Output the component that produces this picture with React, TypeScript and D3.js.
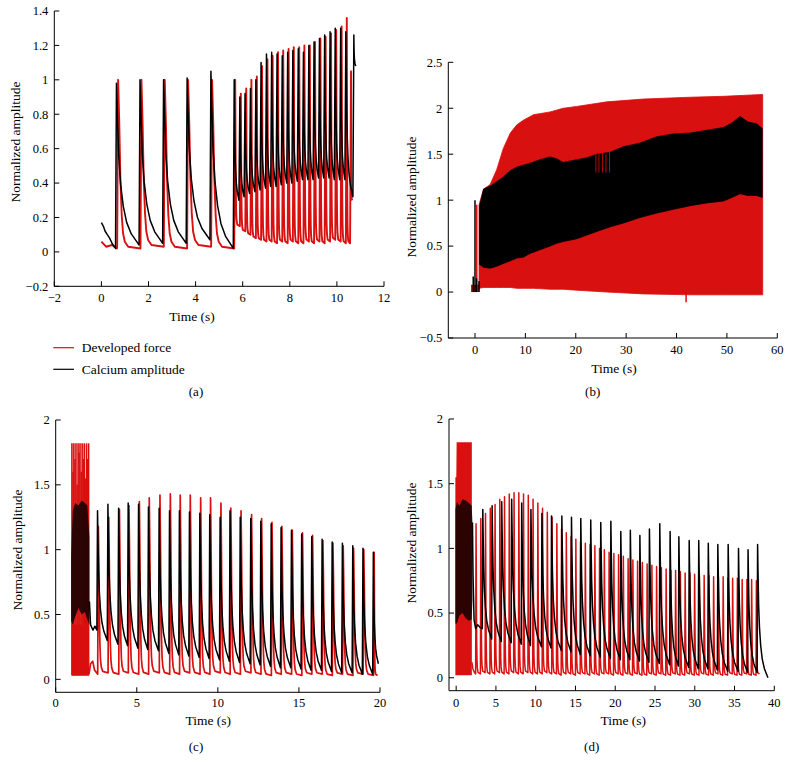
import React from "react";
import * as d3 from "d3";

type P = [number, number];

// ---------- shared beat shape templates (fraction of beat amplitude vs phase of interval) ----------
const FORCE_SHAPE_PHASE = [0, 0.05, 0.1, 0.16, 0.22, 0.3, 0.45, 1];
const FORCE_SHAPE_FRAC = [1, 0.75, 0.42, 0.2, 0.09, 0.04, 0.01, 0];
const CA_SHAPE_PHASE = [0, 0.04, 0.1, 0.18, 0.3, 0.45, 0.65, 0.85, 1];
const CA_SHAPE_FRAC = [1, 0.8, 0.55, 0.38, 0.24, 0.14, 0.07, 0.03, 0];

// ---------- panel (a) ----------
const A_X_TICKS = [-2, 0, 2, 4, 6, 8, 10, 12];
const A_Y_TICKS = [-0.2, 0, 0.2, 0.4, 0.6, 0.8, 1, 1.2, 1.4];
const A_RED_LEAD: P[] = [[0, 0.06], [0.2, 0.03], [0.45, 0.04], [0.66, 0.02]];
const A_RED_T = [0.71, 1.7, 2.69, 3.68, 4.7, 5.68, 5.92, 6.15, 6.37, 6.6, 6.82, 7.05, 7.27, 7.5, 7.72, 7.95, 8.17, 8.4, 8.62, 8.85, 9.07, 9.3, 9.52, 9.75, 9.97, 10.2, 10.42, 10.6];
const A_RED_PEAK = [1.0, 1.0, 1.0, 1.0, 1.0, 1.0, 0.92, 0.95, 1.0, 1.02, 1.08, 1.12, 1.14, 1.16, 1.17, 1.18, 1.19, 1.19, 1.2, 1.2, 1.22, 1.24, 1.25, 1.27, 1.29, 1.31, 1.36, 1.05];
const A_RED_TROUGH = [0.03, 0.02, 0.03, 0.02, 0.03, 0.02, 0.15, 0.12, 0.1, 0.08, 0.07, 0.06, 0.06, 0.05, 0.06, 0.05, 0.06, 0.05, 0.05, 0.06, 0.05, 0.06, 0.05, 0.06, 0.07, 0.06, 0.05, 0.05, 0.3];
const A_RED_END = 10.66;
const A_CA_LEAD: P[] = [[0, 0.17], [0.08, 0.15], [0.16, 0.12], [0.25, 0.1], [0.35, 0.08], [0.45, 0.05], [0.55, 0.03]];
const A_CA_T = [0.64, 1.64, 2.64, 3.64, 4.65, 5.64, 5.88, 6.1, 6.33, 6.56, 6.78, 7.01, 7.23, 7.46, 7.68, 7.91, 8.13, 8.36, 8.58, 8.81, 9.03, 9.26, 9.48, 9.71, 9.93, 10.16, 10.38, 10.72];
const A_CA_PEAK = [0.98, 1.0, 1.0, 1.01, 1.05, 1.0, 0.9, 0.92, 0.95, 1.0, 1.1, 1.15, 1.16, 1.15, 1.14, 1.16, 1.17, 1.18, 1.16, 1.2, 1.22, 1.24, 1.26, 1.28, 1.3, 1.3, 1.28, 1.26];
const A_CA_TROUGH = [0.02, 0.04, 0.05, 0.05, 0.07, 0.02, 0.3, 0.32, 0.34, 0.35, 0.36, 0.37, 0.38, 0.38, 0.39, 0.4, 0.4, 0.41, 0.42, 0.42, 0.42, 0.43, 0.43, 0.43, 0.42, 0.42, 0.42, 0.32, 1.08];
const A_CA_END = 10.8;

// ---------- panel (b) ----------
const B_X_TICKS = [0, 10, 20, 30, 40, 50, 60];
const B_Y_TICKS = [-0.5, 0, 0.5, 1, 1.5, 2, 2.5];
const B_RED_PRE_T = [-0.8, 0.8];
const B_RED_PRE_LO = [0.0, 0.0];
const B_RED_PRE_HI = [0.08, 0.08];
const B_RED_T = [0.8, 1.7, 3.0, 4.3, 5.6, 7.0, 8.3, 9.6, 11.6, 14.9, 17.5, 20.2, 26.2, 33.4, 42.7, 49.3, 57.1];
const B_RED_TOP = [0.95, 1.12, 1.17, 1.33, 1.56, 1.73, 1.82, 1.87, 1.93, 1.96, 2.0, 2.02, 2.07, 2.1, 2.12, 2.13, 2.15];
const B_RED_BOT = [0.04, 0.05, 0.05, 0.05, 0.05, 0.05, 0.04, 0.04, 0.04, 0.03, 0.03, 0.02, 0.0, -0.02, -0.03, -0.03, -0.03];
const B_RED_SPIKE_T = [0.35, 41.9];
const B_RED_SPIKE_LO = [0.0, -0.11];
const B_RED_SPIKE_HI = [0.95, 0.0];
const B_RED_STREAK_T = [24.0, 24.6, 25.3, 26.0, 26.7];
const B_RED_STREAK_LO = [1.3, 1.3, 1.3, 1.3, 1.3];
const B_RED_STREAK_HI = [1.55, 1.52, 1.56, 1.5, 1.53];
const B_CA_T = [0.9, 1.7, 3.0, 4.3, 5.6, 7.0, 8.3, 9.6, 10.9, 12.9, 14.9, 16.2, 17.5, 20.2, 22.2, 24.2, 26.8, 29.4, 32.7, 36.1, 39.4, 42.7, 46.0, 49.3, 51.0, 52.6, 54.2, 55.9, 57.0];
const B_CA_TOP = [0.93, 1.12, 1.15, 1.2, 1.25, 1.32, 1.36, 1.38, 1.4, 1.44, 1.47, 1.45, 1.41, 1.44, 1.46, 1.5, 1.52, 1.58, 1.62, 1.69, 1.72, 1.73, 1.76, 1.79, 1.84, 1.91, 1.85, 1.83, 1.78];
const B_CA_BOT = [0.3, 0.27, 0.26, 0.28, 0.31, 0.34, 0.37, 0.38, 0.42, 0.46, 0.5, 0.53, 0.55, 0.58, 0.62, 0.66, 0.71, 0.75, 0.81, 0.86, 0.9, 0.94, 0.97, 0.99, 1.03, 1.07, 1.05, 1.05, 1.03];
const B_CA_SPIKE_T = [-0.35, 0.0, 0.3, 0.8];
const B_CA_SPIKE_LO = [0.0, 0.0, 0.0, 0.0];
const B_CA_SPIKE_HI = [0.17, 1.0, 0.15, 0.12];

// ---------- panel (c) ----------
const C_X_TICKS = [0, 5, 10, 15, 20];
const C_Y_TICKS = [0, 0.5, 1, 1.5, 2];
const C_BURST_RED_T = [1.0, 1.07, 1.12, 1.19, 1.25, 1.32, 1.38, 1.44, 1.5, 1.57, 1.63, 1.7, 1.76, 1.83, 1.9, 1.96, 2.03];
const C_BURST_RED_HI = [1.82, 1.6, 1.82, 1.7, 1.82, 1.5, 1.82, 1.75, 1.82, 1.6, 1.82, 1.7, 1.82, 1.55, 1.82, 1.7, 1.82];
const C_BURST_RED_LO = [0.03, 0.03, 0.03, 0.03, 0.03, 0.03, 0.03, 0.03, 0.03, 0.03, 0.03, 0.03, 0.03, 0.03, 0.03, 0.03, 0.03];
const C_BURST_BAND_T = [1.0, 2.05];
const C_BURST_BAND_LO = [0.03, 0.03];
const C_BURST_BAND_HI = [0.42, 0.42];
const C_BURST_CA_T = [0.95, 1.05, 1.2, 1.4, 1.6, 1.8, 1.95, 2.08];
const C_BURST_CA_TOP = [0.95, 1.3, 1.36, 1.34, 1.38, 1.36, 1.34, 1.1];
const C_BURST_CA_BOT = [0.45, 0.42, 0.48, 0.55, 0.5, 0.52, 0.46, 0.42];
const C_RED_LEAD: P[] = [[2.05, 0.04], [2.15, 0.12], [2.28, 0.14], [2.4, 0.07], [2.59, 0.04]];
const C_RED_T = [2.63, 3.27, 3.93, 4.52, 5.16, 5.77, 6.43, 7.07, 7.68, 8.3, 8.94, 9.55, 10.19, 10.8, 11.43, 12.08, 12.7, 13.34, 13.95, 14.59, 15.22, 15.84, 16.48, 17.1, 17.73, 18.37, 19.0, 19.64];
const C_RED_PEAK = [1.18, 1.25, 1.31, 1.34, 1.37, 1.4, 1.42, 1.43, 1.42, 1.42, 1.4, 1.4, 1.36, 1.32, 1.3, 1.27, 1.24, 1.21, 1.18, 1.15, 1.13, 1.11, 1.07, 1.05, 1.03, 1.01, 1.0, 0.98];
const C_RED_TROUGH = [0.04, 0.05, 0.04, 0.05, 0.04, 0.04, 0.05, 0.04, 0.04, 0.05, 0.04, 0.04, 0.05, 0.04, 0.04, 0.05, 0.04, 0.03, 0.04, 0.04, 0.03, 0.04, 0.04, 0.03, 0.04, 0.03, 0.04, 0.03, 0.03];
const C_RED_END = 19.85;
const C_CA_LEAD: P[] = [[2.08, 0.6], [2.15, 0.42], [2.3, 0.38], [2.42, 0.41], [2.54, 0.38]];
const C_CA_T = [2.58, 3.22, 3.88, 4.47, 5.11, 5.72, 6.38, 7.02, 7.63, 8.25, 8.89, 9.5, 10.14, 10.75, 11.38, 12.03, 12.65, 13.29, 13.9, 14.54, 15.17, 15.79, 16.43, 17.05, 17.68, 18.32, 18.95, 19.59];
const C_CA_PEAK = [1.3, 1.35, 1.32, 1.36, 1.35, 1.33, 1.32, 1.3, 1.3, 1.29, 1.28, 1.27, 1.25, 1.3, 1.25, 1.24, 1.22, 1.2, 1.17, 1.15, 1.12, 1.1, 1.08, 1.06, 1.05, 1.03, 1.01, 0.98];
const C_CA_TROUGH = [0.38, 0.3, 0.27, 0.26, 0.24, 0.23, 0.22, 0.2, 0.19, 0.18, 0.17, 0.16, 0.15, 0.14, 0.13, 0.12, 0.11, 0.1, 0.09, 0.09, 0.08, 0.07, 0.07, 0.06, 0.05, 0.05, 0.04, 0.04, 0.12];
const C_CA_END = 19.9;

// ---------- panel (d) ----------
const D_X_TICKS = [0, 5, 10, 15, 20, 25, 30, 35, 40];
const D_Y_TICKS = [0, 0.5, 1, 1.5, 2];
const D_BURST_RED_T = [-0.1, 0.02, 0.06, 1.97];
const D_BURST_RED_TOP = [1.55, 1.55, 1.82, 1.82];
const D_BURST_RED_BOT = [0.02, 0.02, 0.02, 0.02];
const D_BURST_CA_T = [-0.1, 0.1, 0.4, 0.8, 1.2, 1.6, 1.95, 2.05];
const D_BURST_CA_TOP = [1.3, 1.36, 1.33, 1.38, 1.37, 1.35, 1.33, 1.2];
const D_BURST_CA_BOT = [0.42, 0.42, 0.48, 0.5, 0.46, 0.44, 0.45, 0.6];
const D_RED_LEAD: P[] = [[1.97, 0.12], [2.1, 0.07], [2.3, 0.04], [2.44, 0.03]];
const D_RED_T = [
  2.5, 3.1, 3.69, 4.29, 4.89, 5.49, 6.08, 6.68, 7.28, 7.88,
  8.47, 9.07, 9.67, 10.27, 10.86, 11.46, 12.06, 12.66, 13.25, 13.85,
  14.45, 15.05, 15.64, 16.24, 16.84, 17.44, 18.03, 18.63, 19.23, 19.83,
  20.42, 21.02, 21.62, 22.22, 22.81, 23.41, 24.01, 24.61, 25.2, 25.8,
  26.4, 27.0, 27.59, 28.19, 28.79, 29.39, 29.98, 30.58, 31.18, 31.78,
  32.37, 32.97, 33.57, 34.17, 34.76, 35.36, 35.96, 36.56, 37.15, 37.75,
];
const D_RED_PEAK = [
  1.19, 1.23, 1.27, 1.31, 1.34, 1.38, 1.4, 1.42, 1.43, 1.43,
  1.42, 1.41, 1.38, 1.35, 1.31, 1.28, 1.24, 1.19, 1.15, 1.12,
  1.09, 1.07, 1.05, 1.04, 1.03, 1.02, 1.0, 0.99, 0.97, 0.96,
  0.95, 0.94, 0.92, 0.91, 0.9, 0.89, 0.88, 0.87, 0.86, 0.85,
  0.84, 0.83, 0.83, 0.82, 0.81, 0.81, 0.8, 0.8, 0.79, 0.79,
  0.78, 0.78, 0.78, 0.77, 0.77, 0.77, 0.76, 0.76, 0.76, 0.75,
];
const D_RED_TROUGH = [
  0.03, 0.03, 0.04, 0.03, 0.03, 0.04, 0.03, 0.03, 0.04, 0.03,
  0.03, 0.04, 0.03, 0.03, 0.03, 0.04, 0.03, 0.03, 0.02, 0.03,
  0.03, 0.02, 0.03, 0.03, 0.02, 0.03, 0.02, 0.03, 0.03, 0.02,
  0.03, 0.02, 0.03, 0.02, 0.03, 0.02, 0.02, 0.03, 0.02, 0.03,
  0.02, 0.02, 0.03, 0.02, 0.02, 0.03, 0.02, 0.02, 0.03, 0.02,
  0.02, 0.03, 0.02, 0.02, 0.03, 0.02, 0.02, 0.03, 0.02, 0.02, 0.03,
];
const D_RED_END = 38.15;
const D_CA_LEAD: P[] = [[2.05, 1.2], [2.12, 0.8], [2.25, 0.45], [2.45, 0.38], [2.7, 0.41], [3.0, 0.39], [3.29, 0.38]];
const D_CA_T = [3.35, 4.52, 5.73, 6.98, 8.24, 9.4, 10.78, 11.99, 13.29, 14.5, 15.67, 16.92, 18.18, 19.45, 20.7, 21.9, 23.1, 24.3, 25.6, 26.9, 28.0, 29.3, 30.5, 31.7, 32.9, 34.2, 35.5, 36.7, 37.9];
const D_CA_PEAK = [1.3, 1.33, 1.36, 1.38, 1.35, 1.3, 1.27, 1.25, 1.25, 1.24, 1.23, 1.22, 1.2, 1.21, 1.13, 1.14, 1.1, 1.15, 1.19, 1.13, 1.09, 1.06, 1.06, 1.04, 1.03, 1.03, 1.0, 0.99, 1.03];
const D_CA_TROUGH = [0.38, 0.3, 0.28, 0.27, 0.26, 0.25, 0.24, 0.23, 0.21, 0.2, 0.18, 0.17, 0.16, 0.15, 0.14, 0.14, 0.13, 0.12, 0.11, 0.1, 0.09, 0.08, 0.07, 0.07, 0.06, 0.05, 0.05, 0.04, 0.04, 0.0];
const D_CA_END = 39.2;

const LEGEND = ["Developed force", "Calcium amplitude"];

const RED = "#d8100f";
const BLACK = "#000000";
const FONT = "'Liberation Serif', 'DejaVu Serif', serif";

function beats(lead: P[], times: number[], peaks: number[], troughs: number[], rise: number, endT: number, phase: number[], frac: number[]): P[] {
  const pts: P[] = lead.map((p) => [p[0], p[1]] as P);
  const n = times.length;
  for (let i = 0; i < n; i++) {
    const t0 = times[i];
    pts.push([t0 - rise, troughs[i]]);
    pts.push([t0, peaks[i]]);
    const next = i < n - 1 ? times[i + 1] - rise : endT;
    const span = next - t0;
    for (let k = 1; k < phase.length; k++) {
      pts.push([t0 + phase[k] * span, troughs[i + 1] + (peaks[i] - troughs[i + 1]) * frac[k]]);
    }
  }
  return pts;
}

type Scale = d3.ScaleLinear<number, number>;

function fmt(v: number) {
  return v < 0 ? "\u2212" + String(Math.abs(v)) : String(v);
}

function Axes(props: { x: Scale; y: Scale; xTicks: number[]; yTicks: number[]; xLabelY: number; xTitle: [number, number]; yTitle: [number, number]; tag: string; tagPos: [number, number] }) {
  const { x, y, xTicks, yTicks, xLabelY, xTitle, yTitle, tag, tagPos } = props;
  const [x0, x1] = x.range();
  const [y0, y1] = y.range();
  return (
    <g fontFamily={FONT} fill="#000">
      <line x1={x0} x2={x0} y1={y0} y2={y1} stroke="#000" strokeWidth={1} />
      <line x1={x0} x2={x1} y1={y0} y2={y0} stroke="#000" strokeWidth={1} />
      {xTicks.map((t) => (
        <g key={"x" + t}>
          <line x1={x(t)} x2={x(t)} y1={y0} y2={y0 - 5} stroke="#000" strokeWidth={1} />
          <text x={x(t)} y={xLabelY} textAnchor="middle" fontSize={12.5}>{fmt(t)}</text>
        </g>
      ))}
      {yTicks.map((t) => (
        <g key={"y" + t}>
          <line x1={x0} x2={x0 + 5} y1={y(t)} y2={y(t)} stroke="#000" strokeWidth={1} />
          <text x={x0 - 6} y={y(t)} dy="0.35em" textAnchor="end" fontSize={12.5}>{fmt(t)}</text>
        </g>
      ))}
      <text x={xTitle[0]} y={xTitle[1]} textAnchor="middle" fontSize={13.5}>Time (s)</text>
      <text transform={`translate(${yTitle[0]},${yTitle[1]}) rotate(-90)`} textAnchor="middle" fontSize={13.5}>Normalized amplitude</text>
      <text x={tagPos[0]} y={tagPos[1]} textAnchor="middle" fontSize={13}>{tag}</text>
    </g>
  );
}

function linePath(x: Scale, y: Scale, pts: P[]) {
  return d3.line<P>().x((p) => x(p[0])).y((p) => y(p[1]))(pts) || "";
}

function bandPath(x: Scale, y: Scale, t: number[], lo: number[], hi: number[]) {
  const idx = t.map((_, i) => i);
  return (
    d3
      .area<number>()
      .x((i) => x(t[i]))
      .y0((i) => y(lo[i]))
      .y1((i) => y(hi[i]))(idx) || ""
  );
}

function Spikes({ x, y, t, lo, hi, color, width }: { x: Scale; y: Scale; t: number[]; lo: number[]; hi: number[]; color: string; width: number }) {
  return (
    <g>
      {t.map((tt, i) => (
        <line key={i} x1={x(tt)} x2={x(tt)} y1={y(lo[i])} y2={y(hi[i])} stroke={color} strokeWidth={width} />
      ))}
    </g>
  );
}

export default function App() {
  // panel a
  const ax = d3.scaleLinear().domain([-2, 12]).range([54.3, 384]);
  const ay = d3.scaleLinear().domain([-0.2, 1.4]).range([286.3, 11]);
  const aRed = beats(A_RED_LEAD, A_RED_T, A_RED_PEAK, A_RED_TROUGH, 0.04, A_RED_END, FORCE_SHAPE_PHASE, FORCE_SHAPE_FRAC);
  const aCa = beats(A_CA_LEAD, A_CA_T, A_CA_PEAK, A_CA_TROUGH, 0.04, A_CA_END, CA_SHAPE_PHASE, CA_SHAPE_FRAC);

  // panel b
  const bx = d3.scaleLinear().domain([-5.3, 60]).range([448.3, 777.3]);
  const by = d3.scaleLinear().domain([-0.5, 2.5]).range([338, 62.3]);

  // panel c
  const cx = d3.scaleLinear().domain([0, 20]).range([55.7, 380]);
  const cy = d3.scaleLinear().domain([-0.1, 2]).range([692.3, 420]);
  const cRed = beats(C_RED_LEAD, C_RED_T, C_RED_PEAK, C_RED_TROUGH, 0.04, C_RED_END, FORCE_SHAPE_PHASE, FORCE_SHAPE_FRAC);
  const cCa = beats(C_CA_LEAD, C_CA_T, C_CA_PEAK, C_CA_TROUGH, 0.04, C_CA_END, CA_SHAPE_PHASE, CA_SHAPE_FRAC);

  // panel d
  const dx = d3.scaleLinear().domain([-0.9, 40]).range([449, 774.3]);
  const dy = d3.scaleLinear().domain([-0.1, 2]).range([690.7, 419]);
  const dRed = beats(D_RED_LEAD, D_RED_T, D_RED_PEAK, D_RED_TROUGH, 0.05, D_RED_END, FORCE_SHAPE_PHASE, FORCE_SHAPE_FRAC);
  const dCa = beats(D_CA_LEAD, D_CA_T, D_CA_PEAK, D_CA_TROUGH, 0.06, D_CA_END, CA_SHAPE_PHASE, CA_SHAPE_FRAC);

  return (
    <svg width={792} height={762} viewBox="0 0 792 762" style={{ position: "absolute", left: 0, top: 0, background: "#fff" }}>
      <rect x={0} y={0} width={792} height={762} fill="#fff" />

      {/* (a) */}
      <path d={linePath(ax, ay, aRed)} fill="none" stroke={RED} strokeWidth={1.9} strokeLinejoin="round" />
      <path d={linePath(ax, ay, aCa)} fill="none" stroke={BLACK} strokeWidth={1.5} strokeLinejoin="round" />
      <Axes x={ax} y={ay} xTicks={A_X_TICKS} yTicks={A_Y_TICKS} xLabelY={301.5} xTitle={[192, 321]} yTitle={[19.5, 142]} tag="(a)" tagPos={[196, 396]} />
      <g fontFamily={FONT} fontSize={13.5}>
        <line x1={53.3} x2={74} y1={347.7} y2={347.7} stroke={RED} strokeWidth={1.2} />
        <text x={81.7} y={352.3}>{LEGEND[0]}</text>
        <line x1={53.3} x2={74} y1={369.3} y2={369.3} stroke={BLACK} strokeWidth={1.2} />
        <text x={81.7} y={373.9}>{LEGEND[1]}</text>
      </g>

      {/* (b) */}
      <path d={bandPath(bx, by, B_RED_PRE_T, B_RED_PRE_LO, B_RED_PRE_HI)} fill={RED} />
      <path d={bandPath(bx, by, B_RED_T, B_RED_BOT, B_RED_TOP)} fill={RED} stroke={RED} strokeWidth={0.8} />
      <Spikes x={bx} y={by} t={B_RED_SPIKE_T} lo={B_RED_SPIKE_LO} hi={B_RED_SPIKE_HI} color={RED} width={1.5} />
      <path d={bandPath(bx, by, B_CA_T, B_CA_BOT, B_CA_TOP)} fill={BLACK} stroke={BLACK} strokeWidth={0.8} />
      <Spikes x={bx} y={by} t={B_CA_SPIKE_T} lo={B_CA_SPIKE_LO} hi={B_CA_SPIKE_HI} color={BLACK} width={1.5} />
      <Spikes x={bx} y={by} t={B_RED_STREAK_T} lo={B_RED_STREAK_LO} hi={B_RED_STREAK_HI} color={RED} width={0.8} />
      <Axes x={bx} y={by} xTicks={B_X_TICKS} yTicks={B_Y_TICKS} xLabelY={354} xTitle={[614, 372.5]} yTitle={[416, 197]} tag="(b)" tagPos={[592.7, 396]} />

      {/* (c) */}
      <path d={bandPath(cx, cy, C_BURST_BAND_T, C_BURST_BAND_LO, C_BURST_BAND_HI)} fill={RED} />
      <Spikes x={cx} y={cy} t={C_BURST_RED_T} lo={C_BURST_RED_LO} hi={C_BURST_RED_HI} color={RED} width={1.6} />
      <path d={linePath(cx, cy, cRed)} fill="none" stroke={RED} strokeWidth={1.7} strokeLinejoin="round" />
      <path d={bandPath(cx, cy, C_BURST_CA_T, C_BURST_CA_BOT, C_BURST_CA_TOP)} fill={BLACK} fillOpacity={0.8} />
      <path d={linePath(cx, cy, cCa)} fill="none" stroke={BLACK} strokeWidth={1.5} strokeLinejoin="round" />
      <Axes x={cx} y={cy} xTicks={C_X_TICKS} yTicks={C_Y_TICKS} xLabelY={706.5} xTitle={[208.3, 724.5]} yTitle={[21.5, 550]} tag="(c)" tagPos={[196, 751]} />

      {/* (d) */}
      <path d={bandPath(dx, dy, D_BURST_RED_T, D_BURST_RED_BOT, D_BURST_RED_TOP)} fill={RED} />
      <path d={linePath(dx, dy, dRed)} fill="none" stroke={RED} strokeWidth={1.5} strokeLinejoin="round" />
      <path d={bandPath(dx, dy, D_BURST_CA_T, D_BURST_CA_BOT, D_BURST_CA_TOP)} fill={BLACK} fillOpacity={0.8} />
      <path d={linePath(dx, dy, dCa)} fill="none" stroke={BLACK} strokeWidth={1.5} strokeLinejoin="round" />
      <Axes x={dx} y={dy} xTicks={D_X_TICKS} yTicks={D_Y_TICKS} xLabelY={706.5} xTitle={[623.3, 724.5]} yTitle={[416, 543]} tag="(d)" tagPos={[591.7, 751]} />
    </svg>
  );
}
